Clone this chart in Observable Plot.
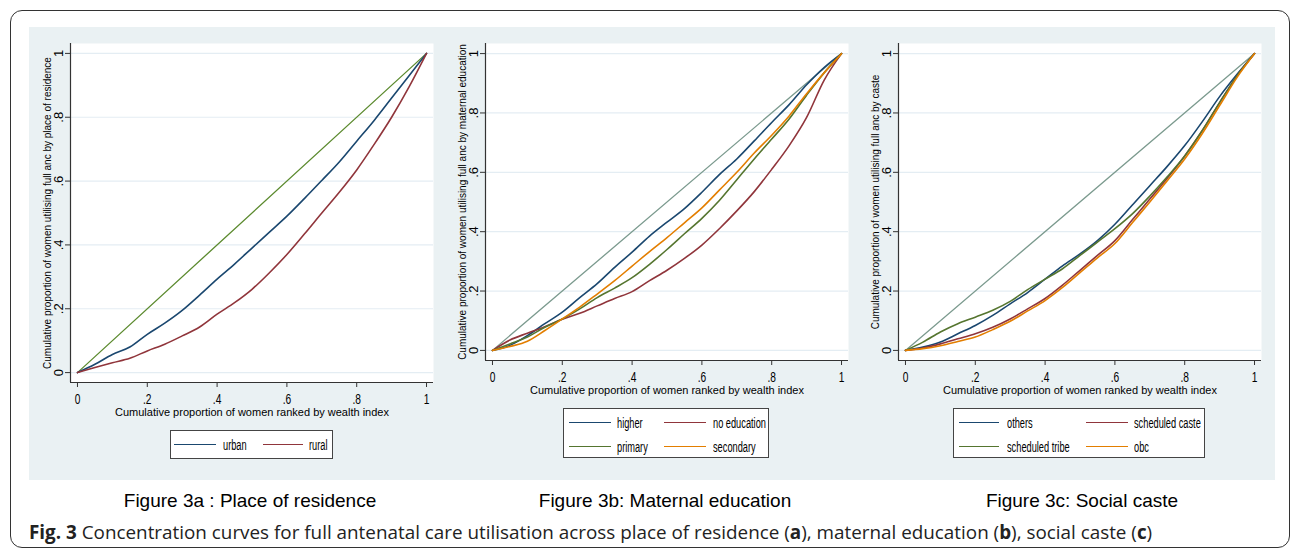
<!DOCTYPE html>
<html><head><meta charset="utf-8">
<script src="https://cdn.jsdelivr.net/npm/d3@7"></script>
<script src="https://cdn.jsdelivr.net/npm/@observablehq/plot@0.6"></script>
<style>
body{margin:0;background:#fff;width:1292px;height:550px;overflow:hidden;position:relative;font-family:"Liberation Sans",Arial,sans-serif;color:#000}
#frame{position:absolute;left:10px;top:10px;width:1280px;height:538px;border:1.5px solid #333;border-radius:12px;box-sizing:border-box}
#bg{position:absolute;left:29px;top:27px;width:1246px;height:453px;background:#eaf1f3}
.panel{position:absolute;top:27px}
.legend{position:absolute;background:#fff;border:1px solid #444;box-sizing:border-box}
.lline{position:absolute;height:0;border-top:1.6px solid}
.ltext{position:absolute;font-size:14px;line-height:16px;white-space:nowrap;transform:scaleX(.66);transform-origin:left center}
.cap{position:absolute;top:490px;font-size:19px;line-height:22px;white-space:nowrap;transform:translateX(-50%)}
#fig{position:absolute;left:29px;top:520px;font-family:"Open Sans",sans-serif;font-size:19px;line-height:24px;white-space:nowrap;transform-origin:left center;color:#222}
</style></head>
<body>
<div id="frame"></div>
<div id="bg"></div>
<div id="pa" class="panel" style="left:29px"></div>
<div id="pb" class="panel" style="left:444px"></div>
<div id="pc" class="panel" style="left:857px"></div>
<div id="la" class="legend" style="left:170px;top:430px;width:163px;height:29px"></div>
<div id="lb" class="legend" style="left:563px;top:408px;width:206px;height:50px"></div>
<div id="lc" class="legend" style="left:953px;top:408px;width:252px;height:50px"></div>
<div class="cap" style="left:250px">Figure 3a : Place of residence</div>
<div class="cap" style="left:665px">Figure 3b: Maternal education</div>
<div class="cap" style="left:1082px">Figure 3c: Social caste</div>
<div id="fig"><b>Fig. 3</b> Concentration curves for full antenatal care utilisation across place of residence (<b>a</b>), maternal education (<b>b</b>), social caste (<b>c</b>)</div>
<script>
// ---- data ----
const xs = [0,0.05,0.1,0.15,0.2,0.25,0.3,0.35,0.4,0.45,0.5,0.55,0.6,0.65,0.7,0.75,0.8,0.85,0.9,0.95,1];
const equality = [0,1];
// panel a: place of residence
const urban = [0,0.026,0.057,0.08,0.12,0.155,0.195,0.243,0.293,0.34,0.39,0.44,0.49,0.545,0.602,0.66,0.725,0.79,0.86,0.93,1];
const rural = [0,0.016,0.031,0.045,0.068,0.089,0.115,0.143,0.183,0.219,0.261,0.313,0.37,0.434,0.5,0.565,0.635,0.715,0.80,0.895,1];
// panel b: maternal education
const higher = [0,0.017,0.05,0.09,0.129,0.178,0.225,0.28,0.331,0.385,0.432,0.478,0.533,0.592,0.645,0.706,0.768,0.828,0.895,0.953,1];
const noEducation = [0,0.035,0.058,0.08,0.105,0.125,0.15,0.175,0.198,0.235,0.27,0.31,0.355,0.41,0.47,0.535,0.61,0.69,0.785,0.91,1];
const primary = [0,0.022,0.045,0.078,0.106,0.14,0.178,0.21,0.245,0.29,0.34,0.393,0.445,0.505,0.575,0.645,0.712,0.78,0.86,0.935,1];
const secondary = [0,0.013,0.031,0.067,0.106,0.146,0.19,0.235,0.284,0.333,0.38,0.43,0.48,0.54,0.60,0.665,0.725,0.79,0.865,0.935,1];
// panel c: social caste
const others = [0,0.011,0.028,0.056,0.084,0.118,0.157,0.195,0.24,0.285,0.325,0.37,0.425,0.49,0.555,0.62,0.69,0.77,0.855,0.93,1];
const scheduledCaste = [0,0.008,0.022,0.039,0.056,0.078,0.106,0.14,0.175,0.22,0.27,0.32,0.37,0.44,0.51,0.58,0.655,0.74,0.835,0.925,1];
const scheduledTribe = [0,0.028,0.062,0.09,0.112,0.135,0.165,0.205,0.24,0.275,0.32,0.365,0.41,0.46,0.52,0.585,0.655,0.74,0.835,0.925,1];
const obc = [0,0.006,0.016,0.03,0.045,0.07,0.098,0.133,0.168,0.212,0.262,0.312,0.36,0.43,0.50,0.572,0.645,0.73,0.825,0.92,1];

const ticks = [0,0.2,0.4,0.6,0.8,1];
const tickLabels = ["0",".2",".4",".6",".8","1"];
const xTitle = "Cumulative proportion of women ranked by wealth index";

const navy="#1a476f", maroon="#90353b", green="#55752f", orange="#e37e00", teal="#7b9a8e";

function makePanel(el, {series, eqColor, yTitle, yTitleLen, plotH, yExt}) {
  const names = series.map(s=>s.name);
  const rows = series.flatMap(s => xs.map((x,i)=>({x, y:s.values[i], name:s.name})));
  const eq = equality.map(v=>({x:v,y:v}));
  const xDomain=[-0.02,1.02], yDomain=[-yExt,1+yExt];
  const svg = Plot.plot({
    width:414, height:plotH+16+45, marginLeft:41, marginRight:10, marginTop:16, marginBottom:45,
    style:{background:"transparent", fontFamily:"'Liberation Sans', Arial, sans-serif", overflow:"visible"},
    x:{domain:xDomain}, y:{domain:yDomain},
    color:{domain:names, range:series.map(s=>s.color)},
    marks:[
      Plot.frame({fill:"white", stroke:"none"}),
      Plot.ruleY(ticks,{stroke:"#e4edf3", strokeWidth:1.2}),
      Plot.line(eq,{x:"x", y:"y", stroke:eqColor, strokeWidth:1.3}),
      Plot.line(rows,{x:"x", y:"y", z:"name", stroke:"name", strokeWidth:1.6, curve:"monotone-x"}),
      Plot.ruleX([xDomain[0]],{stroke:"#333", strokeWidth:1.2}),
      Plot.ruleY([yDomain[0]],{stroke:"#333", strokeWidth:1.2}),
      Plot.axisX({ticks, tickFormat:(d,i)=>tickLabels[i], tickSize:5, tickPadding:6, fontSize:15, label:null, stroke:"#333"}),
      Plot.axisY({ticks, tickFormat:()=>"", tickSize:5, label:null, stroke:"#333"}),
      Plot.text(ticks,{y:d=>d, text:(d,i)=>tickLabels[i], frameAnchor:"left", textAnchor:"middle", lineAnchor:"middle", rotate:-90, dx:-12, fontSize:13}),
      Plot.text([yTitle],{text:d=>d, frameAnchor:"left", textAnchor:"middle", lineAnchor:"middle", rotate:-90, dx:-23, fontSize:10, ariaLabel:"y-title"}),
      Plot.text([xTitle],{text:d=>d, frameAnchor:"bottom", dy:33, fontSize:11, ariaLabel:"x-title"})
    ]
  });
  document.getElementById(el).appendChild(svg);
  const s = d3.select(svg);
  s.selectAll('g[aria-label="x-axis tick label"] text').each(function(){
    const w = this.getComputedTextLength();
    d3.select(this).attr("textLength", w*0.68).attr("lengthAdjust","spacingAndGlyphs");
  });
  s.selectAll('g[aria-label="x-title"] text').attr("textLength",181).attr("lengthAdjust","spacingAndGlyphs");
  s.selectAll('g[aria-label="y-title"] text').attr("textLength",yTitleLen).attr("lengthAdjust","spacingAndGlyphs");
}

makePanel("pa",{series:[{name:"urban",values:urban,color:navy},{name:"rural",values:rural,color:maroon}],
  eqColor:"#5b8a2e", yTitle:"Cumulative proportion of women utilising full anc by place of residence", yTitleLen:321, plotH:339, yExt:0.031});
makePanel("pb",{series:[{name:"higher",values:higher,color:navy},{name:"no education",values:noEducation,color:maroon},{name:"primary",values:primary,color:green},{name:"secondary",values:secondary,color:orange}],
  eqColor:teal, yTitle:"Cumulative proportion of women utilising full anc by maternal education", yTitleLen:326, plotH:317, yExt:0.034});
makePanel("pc",{series:[{name:"others",values:others,color:navy},{name:"scheduled caste",values:scheduledCaste,color:maroon},{name:"scheduled tribe",values:scheduledTribe,color:green},{name:"obc",values:obc,color:orange}],
  eqColor:teal, yTitle:"Cumulative proportion of women utilising full anc by caste", yTitleLen:263, plotH:317, yExt:0.034});

// legends
function makeLegend(el, items, cols, rowsY){
  const box = document.getElementById(el);
  items.forEach((it,i)=>{
    const c = cols[i%2], r = rowsY[Math.floor(i/2)];
    const l = document.createElement("div"); l.className="lline";
    l.style.left=c.l1+"px"; l.style.width=(c.l2-c.l1)+"px"; l.style.top=(r-1)+"px"; l.style.borderColor=it.color;
    const t = document.createElement("div"); t.className="ltext"; t.textContent=it.name;
    t.style.left=c.t+"px"; t.style.top=(r-8)+"px";
    box.appendChild(l); box.appendChild(t);
  });
}
makeLegend("la",[{name:"urban",color:navy},{name:"rural",color:maroon}],[{l1:3,l2:45,t:52},{l1:92,l2:132,t:138}],[14]);
makeLegend("lb",[{name:"higher",color:navy},{name:"no education",color:maroon},{name:"primary",color:green},{name:"secondary",color:orange}],[{l1:5,l2:47,t:53},{l1:100,l2:142,t:149}],[14,38]);
makeLegend("lc",[{name:"others",color:navy},{name:"scheduled caste",color:maroon},{name:"scheduled tribe",color:green},{name:"obc",color:orange}],[{l1:5,l2:45,t:53},{l1:132,l2:174,t:180}],[14,38]);

// caption width fit
const fig = document.getElementById("fig");
fig.style.transform = `scaleX(${1123/fig.scrollWidth})`;
</script>
</body></html>
